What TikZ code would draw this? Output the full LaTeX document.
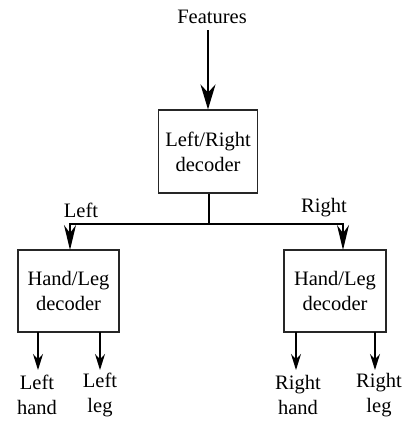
\documentclass[tikz,border=0pt]{standalone}
\usepackage{fontspec}
\setmainfont{Liberation Serif}
\usetikzlibrary{arrows.meta}
\begin{document}
\begin{tikzpicture}[x=1pt,y=1pt,
  blk/.style={draw=black!85, line width=1.1pt, align=center, inner sep=0pt,
    font=\fontsize{20.5}{25}\selectfont},
  lbl/.style={align=center, inner sep=0pt, font=\fontsize{20.5}{25}\selectfont},
  big/.style={line width=1.5pt, -{Stealth[length=25pt,width=15pt]}},
  mid/.style={line width=1.5pt, -{Stealth[length=25pt,width=12pt]}},
  small/.style={line width=1.2pt, -{Stealth[length=16pt,width=10pt]}},
  wire/.style={line width=1.5pt}]
\useasboundingbox (0,0) rectangle (405,-421);
% nodes
\node[lbl] (feat) at (212,-17) {Features};
\node[blk, minimum width=99pt, minimum height=83pt] (lr) at (208,-151.5) {Left/Right\\decoder};
\node[blk, minimum width=101pt, minimum height=82pt] (lhl) at (68.5,-291) {Hand/Leg\\decoder};
\node[blk, minimum width=102pt, minimum height=82pt] (rhl) at (335,-291) {Hand/Leg\\decoder};
\node[lbl] (ltxt) at (81,-210) {Left};
\node[lbl] (rtxt) at (324,-208) {Right};
\node[lbl] (lh) at (37,-395) {Left\\hand};
\node[lbl] (ll) at (100,-395) {Left\\leg};
\node[lbl] (rh) at (298,-395) {Right\\hand};
\node[lbl] (rl) at (379,-395) {Right\\leg};
% coordinates
\coordinate (fs) at (208,-30);
\coordinate (split) at (209,-224);
\coordinate (lend) at (70,-250);
\coordinate (rend) at (343,-250);
% connectors
\draw[big] (fs) -- (lr.north);
\draw[wire] (lr.south -| split) -- (split);
\draw[mid] (split) -| (lend);
\draw[mid] (split) -| (rend);
\draw[small] (38,-332) -- (38,-370);
\draw[small] (100,-332) -- (100,-370);
\draw[small] (296,-332) -- (296,-370);
\draw[small] (375,-332) -- (375,-370);
\end{tikzpicture}
\end{document}
